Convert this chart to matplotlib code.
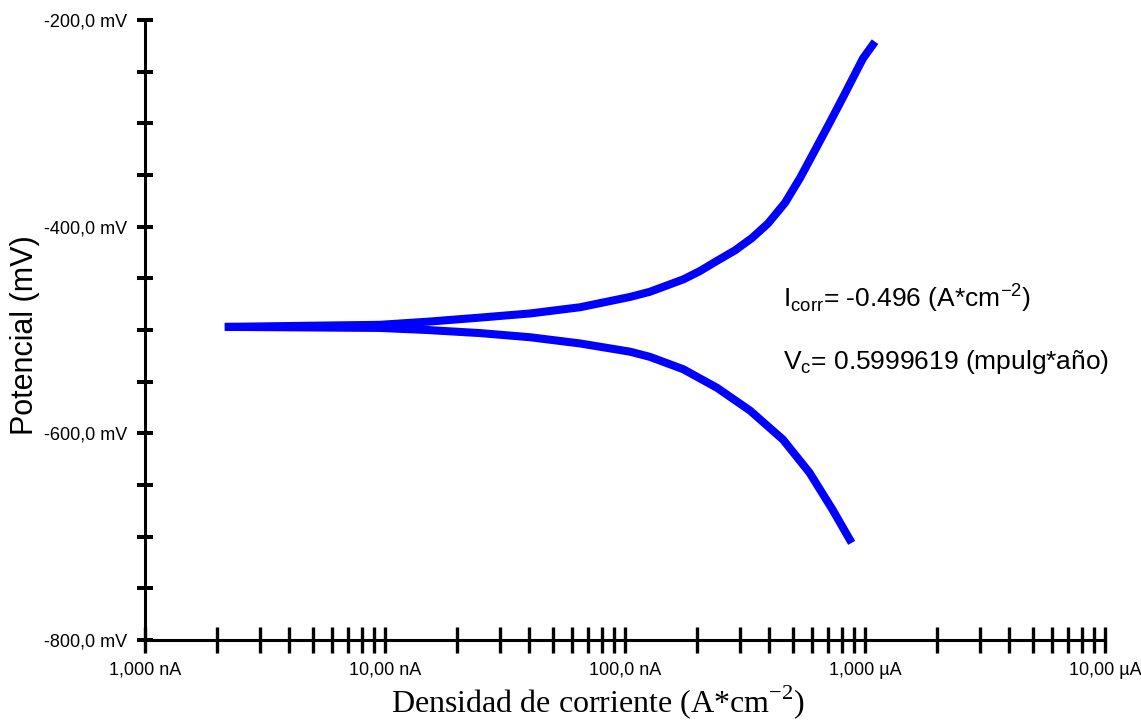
import matplotlib
matplotlib.use("Agg")
import matplotlib.pyplot as plt
import numpy as np
from matplotlib.ticker import FixedLocator, LogLocator, NullFormatter

# Tafel curve (current in nA, potential in mV)
anodic_i_nA = [2.15, 4.43, 9.5, 15, 24.9, 40.2, 64.9, 105, 127, 175, 205, 242,
               287, 338, 394, 464, 536, 619, 714, 809, 891, 982, 1101]
anodic_E = [-497, -496, -495, -492, -488, -484, -478, -468, -463, -451, -443,
            -433, -423, -411, -397, -377, -353, -326, -299, -275, -256, -237,
            -221]

cathodic_i_nA = [2.15, 9.5, 15, 24.9, 40.2, 64.9, 105, 127, 175, 242, 332,
                 455, 587, 733, 880]
cathodic_E = [-497, -498, -500, -503, -507, -513, -521, -526, -538, -556, -578,
              -606, -638, -674, -706]

x_ticks = [1e-9, 1e-8, 1e-7, 1e-6, 1e-5]
x_ticklabels = ["1,000 nA", "10,00 nA", "100,0 nA", "1,000 µA", "10,00 µA"]
y_ticks = [-800, -600, -400, -200]
y_ticklabels = ["-800,0 mV", "-600,0 mV", "-400,0 mV", "-200,0 mV"]

i_corr_text = r"I$_{\mathregular{corr}}$= -0.496 (A*cm$^{\mathregular{-2}}$)"
vc_text = r"V$_{\mathregular{c}}$= 0.5999619 (mpulg*año)"

W, H = 1141, 721
fig = plt.figure(figsize=(W / 100, H / 100), dpi=100)
ax = fig.add_axes([145 / W, (H - 640) / H, 960 / W, 620 / H])

ax.plot(np.array(anodic_i_nA) * 1e-9, anodic_E, color="#0000ff", lw=5.8,
        solid_capstyle="butt", solid_joinstyle="round", clip_on=False)
ax.plot(np.array(cathodic_i_nA) * 1e-9, cathodic_E, color="#0000ff", lw=5.8,
        solid_capstyle="butt", solid_joinstyle="round", clip_on=False)

ax.set_xscale("log")
ax.set_xlim(1e-9, 1e-5)
ax.set_ylim(-800, -200)

for s in ["top", "right"]:
    ax.spines[s].set_visible(False)
for s in ["left", "bottom"]:
    ax.spines[s].set_linewidth(2.2)

tick_font = dict(family=["Liberation Sans Narrow", "Liberation Sans"], size=13)

ax.set_xticks(x_ticks)
ax.set_xticklabels(x_ticklabels, **tick_font)
ax.xaxis.set_minor_locator(LogLocator(base=10, subs=np.arange(2, 10)))
ax.xaxis.set_minor_formatter(NullFormatter())
ax.tick_params(axis="x", which="both", direction="inout", length=19,
               width=2.4, pad=6, color="black")

ax.set_yticks(y_ticks)
ax.set_yticklabels(y_ticklabels, **tick_font)
ax.yaxis.set_minor_locator(FixedLocator(np.arange(-750, -200, 50)))
ax.tick_params(axis="y", which="both", direction="inout", length=11.5,
               width=2.9, pad=7, color="black")

fig.text(25 / W, 1 - 335 / H, "Potencial (mV)", rotation=90, ha="center",
         va="center", family="Liberation Sans", size=22)
fig.text(598 / W, 1 - 712 / H, r"Densidad de corriente (A*cm$^{\mathregular{-2}}$)",
         ha="center", va="baseline", family="Liberation Serif", size=23)

fig.text(783 / W, 1 - 307 / H, i_corr_text, ha="left", va="baseline",
         family="Liberation Sans", size=19)
fig.text(783 / W, 1 - 369 / H, vc_text, ha="left", va="baseline",
         family="Liberation Sans", size=19)

fig.savefig("out.png", dpi=100)
